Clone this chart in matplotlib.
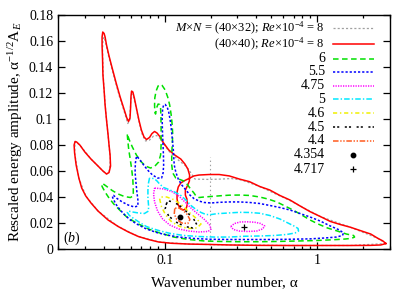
import matplotlib
matplotlib.use('Agg')
import matplotlib.pyplot as plt
import numpy as np
from matplotlib.ticker import FixedLocator, LogLocator, NullFormatter, FuncFormatter

plt.rcParams['font.family'] = ['Liberation Serif', 'DejaVu Serif']
plt.rcParams['mathtext.fontset'] = 'custom'
plt.rcParams['mathtext.rm'] = 'Liberation Serif'
plt.rcParams['mathtext.it'] = 'Liberation Serif:italic'
plt.rcParams['lines.scale_dashes'] = False

# (wavenumber alpha, rescaled amplitude)
# Re = 8, coarse grid 40x32
coarse_8 = [
    (2.82, 0.0042), (1.654, 0.0027), (0.663, 0.0027), (0.265, 0.0031), (0.144, 0.0038),
    (0.0913, 0.0054), (0.0673, 0.0096), (0.0496, 0.0173), (0.0366, 0.0292), (0.0304, 0.0408),
    (0.0274, 0.0546), (0.0257, 0.0738), (0.0259, 0.0827), (0.0278, 0.0800), (0.0329, 0.0692),
    (0.0394, 0.0600), (0.0416, 0.0577), (0.0432, 0.0588), (0.0441, 0.0685), (0.0429, 0.0838),
    (0.0413, 0.1031), (0.0401, 0.1223), (0.0394, 0.1377), (0.0392, 0.1531), (0.0394, 0.1608),
    (0.0401, 0.1631), (0.0410, 0.1592), (0.0426, 0.1500), (0.0453, 0.1377), (0.0504, 0.1177),
    (0.0552, 0.1031), (0.0573, 0.0965), (0.0591, 0.0992), (0.0600, 0.1146), (0.0609, 0.1192),
    (0.0623, 0.1177), (0.0653, 0.1077), (0.0683, 0.0969), (0.0715, 0.0877), (0.0749, 0.0831),
    (0.0796, 0.0838), (0.0846, 0.0869), (0.0885, 0.0873), (0.0941, 0.0846), (0.1063, 0.0754),
    (0.1238, 0.0681), (0.1378, 0.0638), (0.1487, 0.0585), (0.1580, 0.0538), (0.1956, 0.0535),
    (0.2349, 0.0538), (0.2736, 0.0542), (0.3187, 0.0531), (0.4194, 0.0481), (0.6627, 0.0373),
    (1.047, 0.0250), (1.654, 0.0167), (2.497, 0.0082), (2.82, 0.0042)]
coarse_cut_alpha = [0.197, 0.197]
coarse_cut_amp = [0.0, 0.0708]

# Re = 8, grid 40x40
fine_8 = [
    (2.82, 0.0042), (2.61, 0.0031), (2.24, 0.0028), (1.654, 0.0027), (1.047, 0.0027),
    (0.663, 0.0027), (0.419, 0.0028), (0.265, 0.0031), (0.196, 0.0035), (0.144, 0.0038),
    (0.111, 0.0044), (0.0913, 0.0054), (0.0784, 0.0073), (0.0673, 0.0096), (0.0578, 0.0131),
    (0.0496, 0.0173), (0.0426, 0.0223), (0.0366, 0.0292), (0.0329, 0.0354), (0.0304, 0.0408),
    (0.0286, 0.0469), (0.0274, 0.0546), (0.0263, 0.0646), (0.0257, 0.0738), (0.0255, 0.0800),
    (0.0259, 0.0827), (0.0265, 0.0823), (0.0278, 0.0800), (0.0300, 0.0746), (0.0329, 0.0692),
    (0.0366, 0.0638), (0.0394, 0.0600), (0.0416, 0.0577), (0.0432, 0.0588), (0.0442, 0.0638),
    (0.0439, 0.0723), (0.0432, 0.0800), (0.0426, 0.0877), (0.0416, 0.0992), (0.0407, 0.1108),
    (0.0401, 0.1223), (0.0394, 0.1338), (0.0392, 0.1454), (0.0389, 0.1562), (0.0389, 0.1631),
    (0.0393, 0.1669), (0.0401, 0.1658), (0.0407, 0.1631), (0.0416, 0.1569), (0.0432, 0.1485),
    (0.0453, 0.1392), (0.0481, 0.1277), (0.0511, 0.1169), (0.0544, 0.1069), (0.0565, 0.1008),
    (0.0580, 0.0981), (0.0593, 0.1008), (0.0598, 0.1085), (0.0602, 0.1177), (0.0607, 0.1215),
    (0.0619, 0.1208), (0.0633, 0.1162), (0.0653, 0.1085), (0.0678, 0.0992), (0.0704, 0.0915),
    (0.0732, 0.0862), (0.0760, 0.0842), (0.0796, 0.0858), (0.0826, 0.0888), (0.0859, 0.0904),
    (0.0892, 0.0892), (0.0934, 0.0862), (0.0985, 0.0815), (0.1063, 0.0762), (0.1165, 0.0723),
    (0.1276, 0.0692), (0.1357, 0.0654), (0.1420, 0.0615), (0.1457, 0.0569), (0.1453, 0.0523),
    (0.1409, 0.0485), (0.1367, 0.0454), (0.1367, 0.0415), (0.1399, 0.0385), (0.1409, 0.0346),
    (0.1388, 0.0315), (0.1336, 0.0300), (0.1276, 0.0308), (0.1228, 0.0338), (0.1206, 0.0385),
    (0.1206, 0.0438), (0.1228, 0.0477), (0.1276, 0.0508), (0.1357, 0.0527), (0.1442, 0.0542),
    (0.1556, 0.0562), (0.1679, 0.0569), (0.1956, 0.0573), (0.2279, 0.0573), (0.2654, 0.0562),
    (0.3091, 0.0538), (0.3600, 0.0518), (0.4194, 0.0481), (0.4883, 0.0454), (0.5689, 0.0412),
    (0.6627, 0.0377), (0.7718, 0.0331), (0.8986, 0.0287), (1.047, 0.0250), (1.219, 0.0212),
    (1.420, 0.0188), (1.654, 0.0167), (2.017, 0.0133), (2.244, 0.0115), (2.497, 0.0082),
    (2.694, 0.0062), (2.82, 0.0042)]

re_6 = [
    (0.0569, 0.0881), (0.0573, 0.0838), (0.0582, 0.0762), (0.0596, 0.0685), (0.0609, 0.0608),
    (0.0619, 0.0531), (0.0623, 0.0454), (0.0623, 0.0408), (0.0596, 0.0396), (0.0544, 0.0404),
    (0.0496, 0.0423), (0.0453, 0.0450), (0.0413, 0.0485), (0.0392, 0.0504), (0.0386, 0.0500),
    (0.0389, 0.0481), (0.0407, 0.0438), (0.0432, 0.0392), (0.0467, 0.0342), (0.0511, 0.0296),
    (0.0560, 0.0250), (0.0623, 0.0215), (0.0694, 0.0185), (0.0784, 0.0154), (0.0885, 0.0131),
    (0.0985, 0.0115), (0.1147, 0.0092), (0.1442, 0.0073), (0.1812, 0.0062), (0.2279, 0.0058),
    (0.3091, 0.0056), (0.4194, 0.0056), (0.5434, 0.0058), (0.7718, 0.0062), (0.970, 0.0065),
    (1.165, 0.0069), (1.357, 0.0073), (1.532, 0.0077), (1.679, 0.0082), (1.758, 0.0092),
    (1.731, 0.0104), (1.556, 0.0115), (1.357, 0.0138), (1.165, 0.0162), (1.015, 0.0192),
    (0.8986, 0.0223), (0.7718, 0.0269), (0.6939, 0.0300), (0.6138, 0.0331), (0.5434, 0.0362),
    (0.4737, 0.0385), (0.4194, 0.0400), (0.3600, 0.0412), (0.3091, 0.0415), (0.2654, 0.0414),
    (0.2349, 0.0410), (0.2017, 0.0404), (0.1812, 0.0400), (0.1679, 0.0396), (0.1604, 0.0408),
    (0.1556, 0.0431), (0.1464, 0.0469), (0.1399, 0.0500), (0.1336, 0.0523), (0.1257, 0.0535),
    (0.1183, 0.0546), (0.1130, 0.0585), (0.1113, 0.0646), (0.1113, 0.0723), (0.1121, 0.0800),
    (0.1130, 0.0877), (0.1121, 0.0954), (0.1104, 0.1031), (0.1079, 0.1108), (0.1047, 0.1169),
    (0.1008, 0.1223), (0.0963, 0.1258), (0.0937, 0.1265), (0.0906, 0.1254), (0.0879, 0.1215),
    (0.0862, 0.1162), (0.0859, 0.1108), (0.0862, 0.1054), (0.0872, 0.1038), (0.0885, 0.1085),
    (0.0906, 0.1115), (0.0927, 0.1112), (0.0941, 0.1085), (0.0946, 0.1008), (0.0948, 0.0915),
    (0.0948, 0.0800), (0.0941, 0.0723), (0.0913, 0.0669), (0.0859, 0.0635), (0.0808, 0.0623),
    (0.0749, 0.0638), (0.0694, 0.0677), (0.0653, 0.0723), (0.0614, 0.0785), (0.0587, 0.0838),
    (0.0569, 0.0881)]

re_5_5 = [
    (0.0653, 0.0708), (0.0643, 0.0662), (0.0640, 0.0592), (0.0648, 0.0515), (0.0658, 0.0438),
    (0.0668, 0.0377), (0.0668, 0.0331), (0.0633, 0.0323), (0.0578, 0.0338), (0.0527, 0.0362),
    (0.0488, 0.0388), (0.0463, 0.0412), (0.0453, 0.0408), (0.0460, 0.0385), (0.0481, 0.0342),
    (0.0511, 0.0300), (0.0552, 0.0258), (0.0596, 0.0223), (0.0673, 0.0185), (0.0760, 0.0154),
    (0.0885, 0.0127), (0.1031, 0.0108), (0.1238, 0.0092), (0.1556, 0.0081), (0.1956, 0.0075),
    (0.2654, 0.0073), (0.3600, 0.0073), (0.4883, 0.0073), (0.6627, 0.0075), (0.8986, 0.0078),
    (1.130, 0.0085), (1.336, 0.0092), (1.464, 0.0104), (1.487, 0.0123), (1.399, 0.0146),
    (1.219, 0.0177), (1.047, 0.0215), (0.8986, 0.0246), (0.7718, 0.0273), (0.6627, 0.0300),
    (0.5689, 0.0319), (0.4883, 0.0335), (0.4194, 0.0350), (0.3600, 0.0358), (0.3091, 0.0362),
    (0.2654, 0.0362), (0.2279, 0.0359), (0.2017, 0.0354), (0.1812, 0.0358), (0.1679, 0.0369),
    (0.1556, 0.0388), (0.1464, 0.0415), (0.1388, 0.0450), (0.1296, 0.0492), (0.1228, 0.0538),
    (0.1183, 0.0592), (0.1156, 0.0646), (0.1147, 0.0708), (0.1138, 0.0777), (0.1121, 0.0854),
    (0.1104, 0.0931), (0.1087, 0.0992), (0.1063, 0.1054), (0.1039, 0.1092), (0.1008, 0.1112),
    (0.0985, 0.1108), (0.0970, 0.1077), (0.0963, 0.1008), (0.0967, 0.0915), (0.0974, 0.0823),
    (0.0982, 0.0723), (0.0985, 0.0646), (0.0977, 0.0585), (0.0955, 0.0546), (0.0899, 0.0546),
    (0.0833, 0.0569), (0.0784, 0.0600), (0.0737, 0.0638), (0.0694, 0.0681), (0.0663, 0.0708),
    (0.0653, 0.0708)]

re_4_75 = [
    (0.0859, 0.0469), (0.0985, 0.0462), (0.1113, 0.0442), (0.1238, 0.0408), (0.1357, 0.0362),
    (0.1510, 0.0308), (0.1679, 0.0262), (0.1840, 0.0223), (0.1971, 0.0185), (0.2017, 0.0154),
    (0.1927, 0.0135), (0.1679, 0.0131), (0.1442, 0.0138), (0.1238, 0.0154), (0.1079, 0.0185),
    (0.0970, 0.0231), (0.0899, 0.0292), (0.0859, 0.0362), (0.0846, 0.0423), (0.0859, 0.0469)]
re_4_75_isle = [
    (0.2716, 0.0173), (0.2864, 0.0196), (0.3139, 0.0208), (0.3491, 0.0209), (0.3885, 0.0206),
    (0.4257, 0.0196), (0.4525, 0.0177), (0.4389, 0.0154), (0.4005, 0.0138), (0.3491, 0.0135),
    (0.3091, 0.0138), (0.2821, 0.0150), (0.2716, 0.0173)]

re_5 = [
    (0.0796, 0.0546), (0.0784, 0.0508), (0.0777, 0.0454), (0.0777, 0.0392), (0.0784, 0.0338),
    (0.0784, 0.0292), (0.0737, 0.0273), (0.0673, 0.0277), (0.0614, 0.0285), (0.0578, 0.0292),
    (0.0569, 0.0281), (0.0587, 0.0258), (0.0633, 0.0231), (0.0694, 0.0200), (0.0760, 0.0173),
    (0.0846, 0.0154), (0.0941, 0.0138), (0.1096, 0.0119), (0.1336, 0.0104), (0.1679, 0.0096),
    (0.2111, 0.0092), (0.2654, 0.0092), (0.3336, 0.0098), (0.4194, 0.0100), (0.5268, 0.0104),
    (0.6329, 0.0112), (0.7149, 0.0123), (0.7543, 0.0138), (0.7489, 0.0158), (0.7040, 0.0177),
    (0.6329, 0.0204), (0.5689, 0.0231), (0.4883, 0.0258), (0.4194, 0.0275), (0.3600, 0.0281),
    (0.3091, 0.0282), (0.2778, 0.0279), (0.2459, 0.0275), (0.2210, 0.0272), (0.2017, 0.0265),
    (0.1868, 0.0265), (0.1731, 0.0281), (0.1604, 0.0304), (0.1487, 0.0335), (0.1378, 0.0377),
    (0.1276, 0.0412), (0.1165, 0.0438), (0.1063, 0.0458), (0.0985, 0.0473), (0.0927, 0.0500),
    (0.0885, 0.0527), (0.0846, 0.0542), (0.0796, 0.0546)]

re_4_6 = [
    (0.0927, 0.0385), (0.0955, 0.0323), (0.1015, 0.0262), (0.1113, 0.0208), (0.1257, 0.0173),
    (0.1442, 0.0158), (0.1629, 0.0162), (0.1731, 0.0192), (0.1629, 0.0231), (0.1464, 0.0277),
    (0.1316, 0.0331), (0.1165, 0.0377), (0.1031, 0.0400), (0.0941, 0.0400), (0.0927, 0.0385)]

re_4_5 = [
    (0.1031, 0.0354), (0.1008, 0.0308), (0.1063, 0.0254), (0.1183, 0.0208), (0.1357, 0.0173),
    (0.1532, 0.0162), (0.1629, 0.0185), (0.1556, 0.0227), (0.1420, 0.0277), (0.1276, 0.0327),
    (0.1147, 0.0362), (0.1063, 0.0369), (0.1031, 0.0354)]

re_4_4 = [
    (0.1165, 0.0312), (0.1156, 0.0269), (0.1201, 0.0227), (0.1296, 0.0200), (0.1420, 0.0196),
    (0.1464, 0.0227), (0.1399, 0.0269), (0.1296, 0.0304), (0.1219, 0.0319), (0.1165, 0.0312)]

point_4_354 = (0.1267, 0.0248)
point_4_717 = (0.3336, 0.0167)

labels = [r'$M$×$N$ = (40×32); $Re$×10$^{-4}$ = 8', r'(40×40); $Re$×10$^{-4}$ = 8',
          '6', '5.5', '4.75', '5', '4.6', '4.5', '4.4', '4.354', '4.717']


def xy(pts):
    arr = np.array(pts)
    return arr[:, 0], arr[:, 1]


fig = plt.figure(figsize=(4.15, 2.91), dpi=100)
ax = fig.add_axes([58 / 415, 42 / 291, 332 / 415, 234 / 291])
ax.set_xscale('log')

lw = 1.1
styles = [
    dict(color='#a0a0a0', dashes=(1.5, 1.5), lw=0.9),
    dict(color='#ff0000', ls='-', lw=lw),
    dict(color='#00e000', dashes=(4, 2.5), lw=lw),
    dict(color='#0000ff', dashes=(1.6, 1.4), lw=lw),
    dict(color='#ff00ff', dashes=(0.9, 0.9), lw=lw),
    dict(color='#00e8ff', dashes=(4, 1.5, 1, 1.5), lw=lw),
    dict(color='#f0f000', dashes=(3, 2, 1, 2), lw=lw),
    dict(color='black', dashes=(1.5, 1.5, 1.5, 4), lw=lw),
    dict(color='#ff5a1e', dashes=(4, 1.2, 1, 1.2, 1, 1.2), lw=lw),
]

curves = [[coarse_8], [fine_8], [re_6], [re_5_5], [re_4_75, re_4_75_isle],
          [re_5], [re_4_6], [re_4_5], [re_4_4]]

for parts, st in zip(curves, styles):
    for pts in parts:
        a, e = xy(pts)
        ax.plot(a, e, **st)
    if st['color'] == '#a0a0a0':
        ax.plot(coarse_cut_alpha, coarse_cut_amp, color='#a0a0a0', dashes=(1, 2), lw=0.8)

ax.plot([point_4_354[0]], [point_4_354[1]], 'o', color='black', ms=3.2)
ax.plot([point_4_717[0]], [point_4_717[1]], '+', color='black', ms=4, mew=0.9)

# legend, gnuplot style: label right-aligned, sample on the right
rows_y = [0.944, 0.875, 0.813, 0.758, 0.697, 0.640, 0.580, 0.521, 0.462, 0.402, 0.341]
for i, (lab, y) in enumerate(zip(labels, rows_y)):
    ax.text(0.804, y, lab, transform=ax.transAxes, ha='right', va='center',
            fontsize=9 if i < 2 else 10)
    if i < len(styles):
        ax.plot([0.828, 0.952], [y, y], transform=ax.transAxes, **styles[i])
    elif i == 9:
        ax.plot([0.890], [y], 'o', color='black', ms=3.2, transform=ax.transAxes)
    else:
        ax.plot([0.890], [y], '+', color='black', ms=4, mew=0.9, transform=ax.transAxes)

ax.text(0.015, 0.047, '($b$)', transform=ax.transAxes, ha='left', va='center', fontsize=10)

ax.set_xlim(0.02, 3)
ax.set_ylim(0, 0.18)
ax.xaxis.set_major_locator(FixedLocator([0.1, 1]))
ax.xaxis.set_major_formatter(FuncFormatter(lambda v, p: '%g' % v))
ax.xaxis.set_minor_locator(LogLocator(base=10, subs=np.arange(2, 10)))
ax.xaxis.set_minor_formatter(NullFormatter())
ax.set_yticks(np.arange(0, 0.181, 0.02))
ax.yaxis.set_major_formatter(FuncFormatter(lambda v, p: '%g' % round(v, 2)))

ax.tick_params(which='both', direction='in', top=True, right=True, labelsize=10, width=0.9)
ax.tick_params(which='major', length=5)
ax.tick_params(which='minor', length=2.5)
for s in ax.spines.values():
    s.set_linewidth(1.0)

ax.set_xlabel('Wavenumber number, α', fontsize=11, labelpad=7)
ax.set_ylabel(r'Rescaled energy amplitude, α$^{-1/2}$A$_E$', fontsize=11, labelpad=3)

fig.savefig('out.png', dpi=100)
